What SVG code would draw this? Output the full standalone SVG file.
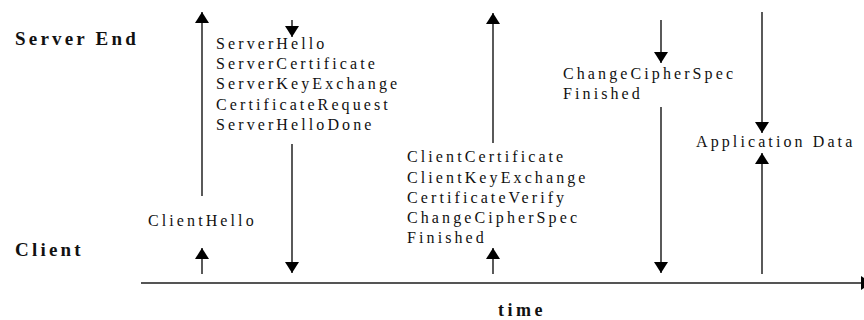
<svg xmlns="http://www.w3.org/2000/svg" width="864" height="320" viewBox="0 0 864 320">
<style>
.msg{font-family:"Liberation Serif","Times New Roman",serif;font-size:16px;letter-spacing:3.1px;fill:#111}
.lbl{font-family:"Liberation Serif","Times New Roman",serif;font-size:19px;font-weight:bold;letter-spacing:3.2px;fill:#111}
.ar{stroke:#000;stroke-width:1.3;fill:none;marker-end:url(#ah)}
</style>
<defs>
<marker id="ah" viewBox="0 0 11 14" markerWidth="11" markerHeight="14" refX="11" refY="7" orient="auto" markerUnits="userSpaceOnUse">
<path d="M0,0 L11,7 L0,14 Z" fill="#000"/>
</marker>
</defs>
<rect width="864" height="320" fill="#fff"/>
<g id="labels">
<text class="lbl" x="15" y="45">Server End</text>
<text class="lbl" x="15" y="256">Client</text>
<text class="lbl" x="498" y="316" style="font-size:18px;letter-spacing:3.5px">time</text>
</g>
<g id="server-hello-msgs">
<text class="msg" x="216" y="49">ServerHello</text>
<text class="msg" x="216" y="69">ServerCertificate</text>
<text class="msg" x="216" y="89">ServerKeyExchange</text>
<text class="msg" x="216" y="110">CertificateRequest</text>
<text class="msg" x="216" y="130">ServerHelloDone</text>
</g>
<g id="client-hello">
<text class="msg" x="148" y="226">ClientHello</text>
</g>
<g id="client-msgs">
<text class="msg" x="407" y="162">ClientCertificate</text>
<text class="msg" x="407" y="183">ClientKeyExchange</text>
<text class="msg" x="407" y="203">CertificateVerify</text>
<text class="msg" x="407" y="223">ChangeCipherSpec</text>
<text class="msg" x="407" y="243">Finished</text>
</g>
<g id="server-finished">
<text class="msg" x="563" y="79">ChangeCipherSpec</text>
<text class="msg" x="563" y="99">Finished</text>
</g>
<g id="app-data">
<text class="msg" x="696" y="147">Application Data</text>
</g>
<g id="connectors">
<line x1="141" y1="283" x2="872" y2="283" stroke="#555" stroke-width="2" marker-end="url(#ah)"/>
<line class="ar" x1="202" y1="196" x2="202" y2="12"/>
<line class="ar" x1="202" y1="274" x2="202" y2="248"/>
<line class="ar" x1="292" y1="20" x2="292" y2="37"/>
<line class="ar" x1="292" y1="144" x2="292" y2="273"/>
<line class="ar" x1="493" y1="143" x2="493" y2="13"/>
<line class="ar" x1="493" y1="274" x2="493" y2="248"/>
<line class="ar" x1="661" y1="20" x2="661" y2="63"/>
<line class="ar" x1="661" y1="107" x2="661" y2="273"/>
<line class="ar" x1="762" y1="12" x2="762" y2="133"/>
<line class="ar" x1="762" y1="274" x2="762" y2="153"/>
</g>
</svg>
